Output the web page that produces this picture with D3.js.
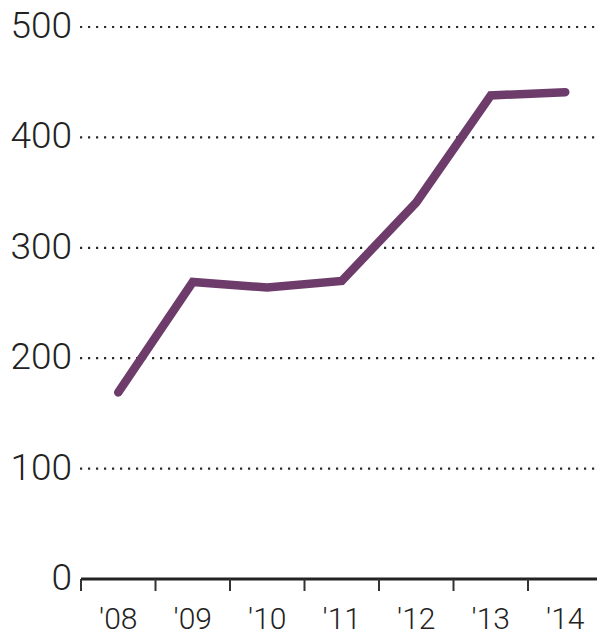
<!DOCTYPE html>
<html><head><meta charset="utf-8">
<script src="https://cdn.jsdelivr.net/npm/d3@7"></script>
<style>body{margin:0;background:#fff;} svg{display:block;}</style>
</head><body>
<svg id="c" width="597" height="638"></svg>
<script>
const years = ["'08","'09","'10","'11","'12","'13","'14"];
const values = [169, 269, 264, 270, 341, 438, 441];
const yTicks = [0, 100, 200, 300, 400, 500];

(function(){
const svg = d3.select("#c");
const mLeft = 81, mRight = 602.5, mTop = 27, mBottom = 579;
const x = d3.scaleBand().domain(years).range([mLeft, mRight]).padding(0);
const y = d3.scaleLinear().domain([0, 500]).range([mBottom, mTop]);
const font = "Roboto, 'Open Sans', sans-serif";

// gridlines
svg.append("g").selectAll("line").data(yTicks.filter(d => d > 0)).join("line")
  .attr("x1", 80).attr("x2", 597)
  .attr("y1", d => y(d)).attr("y2", d => y(d))
  .attr("stroke", "#2a2a2a").attr("stroke-width", 2.2)
  .attr("stroke-dasharray", "2.2,5.8");

// y labels
svg.append("g").selectAll("text").data(yTicks).join("text")
  .attr("x", 72).attr("y", d => y(d) - 2).attr("dy", "0.35em")
  .attr("text-anchor", "end")
  .attr("font-family", font).attr("font-weight", 300)
  .attr("font-size", 37).attr("fill", "#222")
  .text(d => d);

// x axis
const xAxis = svg.append("g").attr("transform", `translate(0,${mBottom})`);
xAxis.append("line").attr("x1", mLeft).attr("x2", 597).attr("y1", 0).attr("y2", 0)
  .attr("stroke", "#222").attr("stroke-width", 3);
xAxis.selectAll("line.tick").data(years).join("line").attr("class", "tick")
  .attr("x1", d => x(d)).attr("x2", d => x(d)).attr("y1", 0).attr("y2", 12)
  .attr("stroke", "#333").attr("stroke-width", 2);
xAxis.selectAll("text").data(years).join("text")
  .attr("x", d => x(d) + x.bandwidth() / 2).attr("y", 50)
  .attr("text-anchor", "middle")
  .attr("font-family", font).attr("font-weight", 300)
  .attr("font-size", 30).attr("fill", "#222")
  .text(d => d);

// line
const line = d3.line()
  .x((d, i) => x(years[i]) + x.bandwidth() / 2)
  .y(d => y(d));
svg.append("path").datum(values)
  .attr("d", line).attr("fill", "none")
  .attr("stroke", "#6e3c6a").attr("stroke-width", 8.5)
  .attr("stroke-linejoin", "miter").attr("stroke-linecap", "round");
})();
</script>
</body></html>
